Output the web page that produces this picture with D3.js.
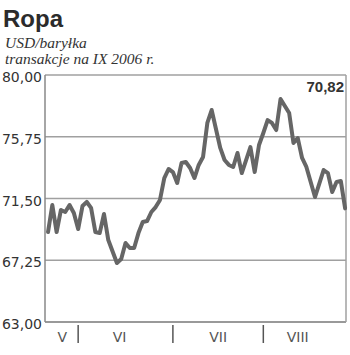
<!DOCTYPE html>
<html>
<head>
<meta charset="utf-8">
<script src="https://cdn.jsdelivr.net/npm/d3@7"></script>
<style>
  html, body { margin: 0; padding: 0; background: #fff; }
</style>
</head>
<body>
<div id="chart"></div>
<script>
// trading-day index and price (USD/barrel)
const DAYS = [0, 1, 2, 3, 4, 5, 6, 7, 8, 9, 10, 11, 12, 13, 14, 16, 17, 18, 19, 20,
  21, 22, 23, 24, 25, 26, 27, 28, 29, 30, 31, 32, 33, 34, 35, 36, 37, 38, 40, 41,
  42, 43, 44, 45, 47, 48, 49, 50, 51, 52, 53, 54, 55, 56, 57, 58, 59, 60, 62, 64,
  65, 66, 67, 68, 69];
const PRICES = [69.19, 71.05, 69.19, 70.71, 70.57, 71.05, 70.5, 69.4, 70.98, 71.26,
  70.85, 69.19, 69.12, 70.43, 68.64, 67.06, 67.34, 68.44, 68.09, 68.09,
  69.12, 69.88, 69.95, 70.57, 70.91, 71.4, 72.91, 73.53, 73.32, 72.57,
  73.94, 74.01, 73.6, 72.91, 73.81, 74.36, 76.7, 77.59, 74.98, 74.15,
  73.81, 73.67, 74.63, 73.25, 75.04, 73.32, 75.18, 76.01, 76.9, 76.7,
  76.21, 78.35, 77.87, 77.38, 75.32, 75.66, 74.29, 73.67, 71.6, 73.46,
  73.25, 71.95, 72.64, 72.7, 70.82];
const Y_TICKS = [63, 67.25, 71.5, 75.75, 80];
const MONTH_LABELS = ["V", "VI", "VII", "VIII"];
const MONTH_LABEL_DAYS = [3.3, 16.6, 39.5, 58];
const MONTH_BREAKS = [7, 29, 50];
const LAST_LABEL = "70,82";

const width = 350;
const height = 355;
const plot = { left: 45, right: 346, top: 75, bottom: 322 };

const svg = d3.select("#chart").append("svg")
  .attr("width", width)
  .attr("height", height);

const x = d3.scaleLinear().domain([-0.7, 69.2]).range([plot.left, plot.right]);
const y = d3.scaleLinear().domain([63, 80]).range([plot.bottom, plot.top]);
const fmt = (v) => d3.format(".2f")(v).replace(".", ",");

svg.append("text")
  .attr("x", 3).attr("y", 27)
  .attr("font-family", "'Liberation Sans', Arial, sans-serif")
  .attr("font-weight", 700)
  .attr("font-size", 24)
  .attr("fill", "#2b2b2b")
  .text("Ropa");

svg.append("text")
  .attr("x", 5).attr("y", 48)
  .attr("font-family", "'Liberation Serif', 'DejaVu Serif', serif")
  .attr("font-style", "italic")
  .attr("font-size", 15.5)
  .attr("fill", "#333")
  .text("USD/baryłka");

svg.append("text")
  .attr("x", 5).attr("y", 64)
  .attr("font-family", "'Liberation Serif', 'DejaVu Serif', serif")
  .attr("font-style", "italic")
  .attr("font-size", 15.5)
  .attr("fill", "#333")
  .text("transakcje na IX 2006 r.");

// gridlines
svg.append("g")
  .selectAll("line")
  .data(Y_TICKS)
  .join("line")
  .attr("x1", plot.left).attr("x2", plot.right)
  .attr("y1", (d) => y(d)).attr("y2", (d) => y(d))
  .attr("stroke", (d) => (d === 63 ? "#777" : "#a0a0a0"))
  .attr("stroke-width", 1.5);

// frame sides
svg.append("line")
  .attr("x1", plot.left).attr("x2", plot.left)
  .attr("y1", plot.top).attr("y2", plot.bottom)
  .attr("stroke", "#888").attr("stroke-width", 1.5);
svg.append("line")
  .attr("x1", plot.right).attr("x2", plot.right)
  .attr("y1", plot.top).attr("y2", plot.bottom)
  .attr("stroke", "#a0a0a0").attr("stroke-width", 1.5);

svg.append("g")
  .selectAll("text")
  .data(Y_TICKS)
  .join("text")
  .attr("x", 42)
  .attr("y", (d) => y(d) + 7)
  .attr("text-anchor", "end")
  .attr("font-family", "'DejaVu Sans', Verdana, sans-serif")
  .attr("font-size", 14)
  .attr("fill", "#333")
  .text(fmt);

// month separators and labels
svg.append("g")
  .selectAll("line")
  .data(MONTH_BREAKS)
  .join("line")
  .attr("x1", (d) => x(d)).attr("x2", (d) => x(d))
  .attr("y1", 325).attr("y2", 343)
  .attr("stroke", "#555")
  .attr("stroke-width", 1.5);

svg.append("g")
  .selectAll("text")
  .data(MONTH_LABELS)
  .join("text")
  .attr("x", (d, i) => x(MONTH_LABEL_DAYS[i]))
  .attr("y", 342)
  .attr("text-anchor", "middle")
  .attr("font-family", "'DejaVu Sans', Verdana, sans-serif")
  .attr("font-size", 14)
  .attr("fill", "#555")
  .text((d) => d);

const series = DAYS.map((d, i) => ({ day: d, price: PRICES[i] }));

svg.append("path")
  .datum(series)
  .attr("fill", "none")
  .attr("stroke", "#666")
  .attr("stroke-width", 4)
  .attr("stroke-linejoin", "round")
  .attr("stroke-linecap", "round")
  .attr("d", d3.line().x((d) => x(d.day)).y((d) => y(d.price)));

svg.append("text")
  .attr("x", 344).attr("y", 92)
  .attr("text-anchor", "end")
  .attr("font-family", "'Liberation Sans', Arial, sans-serif")
  .attr("font-weight", 700)
  .attr("font-size", 15)
  .attr("fill", "#333")
  .text(LAST_LABEL);
</script>
</body>
</html>
